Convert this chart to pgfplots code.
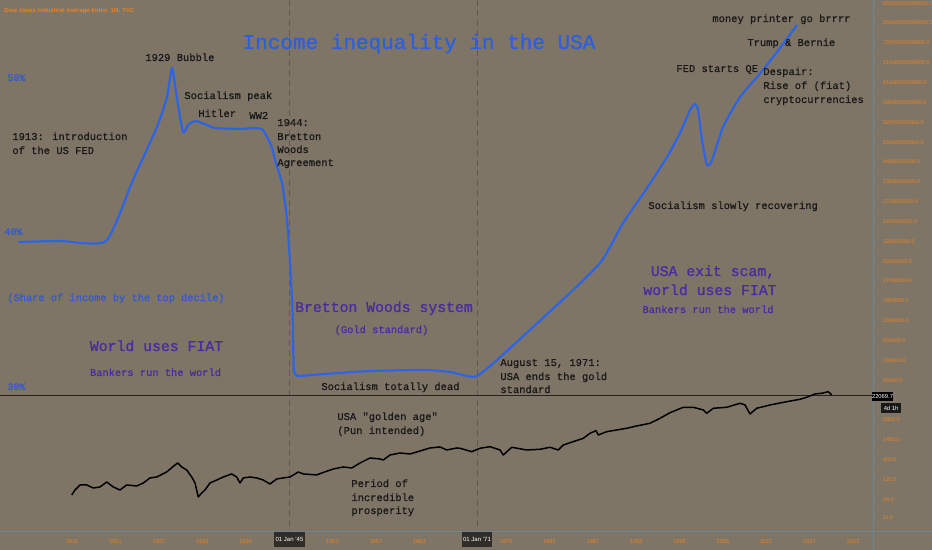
\documentclass[border=0pt]{standalone}
\usepackage{pgfplots}
\pgfplotsset{compat=1.18}
\usepackage{fontspec}
\setmainfont{Liberation Sans}
\newfontfamily\mono[FakeBold=0.8]{Liberation Mono}
\newfontfamily\monob[FakeBold=1.2]{Liberation Mono}
\definecolor{bg}{RGB}{127,117,103}
\definecolor{lineblue}{RGB}{45,100,230}
\definecolor{titleblue}{RGB}{45,95,225}
\definecolor{lblblue}{RGB}{50,90,205}
\definecolor{purp}{RGB}{72,44,160}
\definecolor{orng}{RGB}{235,130,30}
\definecolor{axblue}{RGB}{105,135,150}
\definecolor{guide}{RGB}{98,90,79}
\definecolor{boxgray}{RGB}{48,45,41}
\tikzset{
 ann/.style={font=\mono\fontsize{5.23}{6.75}\selectfont, text=black!90, anchor=base west, inner sep=0},
 pbig/.style={font=\monob\fontsize{7.4}{9}\selectfont, text=purp, anchor=base, inner sep=0},
 psmall/.style={font=\mono\fontsize{5.2}{6}\selectfont, text=purp, anchor=base, inner sep=0},
 pct/.style={font=\mono\fontsize{5}{6}\selectfont, text=lblblue, anchor=base west, inner sep=0},
}
\begin{document}
\begin{tikzpicture}
\fill[bg] (0,0) rectangle (466pt,275pt);
\begin{scope}[x=0.5pt,y=-0.5pt,yshift=275pt]
  \draw[guide, line width=0.35pt, densely dashed] (289.5,0) -- (289.5,532);
  \draw[guide, line width=0.35pt, densely dashed] (477,0) -- (477,532);
  \draw[black!70!bg, line width=0.4pt] (0,395.5) -- (873,395.5);
  \draw[axblue, line width=0.5pt] (0,532) -- (932,532);
  \draw[axblue, line width=0.5pt] (873,0) -- (873,550);
\end{scope}

% Dow Jones (log scale, right axis)
\begin{axis}[
  at={(0pt,9pt)}, anchor=south west, scale only axis,
  width=436.5pt, height=266pt,
  xmin=1905.03, xmax=2025.76,
  ymode=log, ymin=4.55, ymax=1.05e15,
  axis x line*=bottom, axis y line*=right,
  axis line style={draw=none},
  xtick={1915,1921,1927,1933,1939,1951,1957,1963,1975,1981,1987,1993,1999,2005,2011,2017,2023},
  xticklabels={1915,1921,1927,1933,1939,1951,1957,1963,1975,1981,1987,1993,1999,2005,2011,2017,2023},
  xticklabel style={font=\fontsize{2.8}{3}\selectfont, text=orng, anchor=center, yshift=-3.2pt},
  xtick style={draw=none},
  ytick={11,34,120,400,1400,5000,55000,190000,650000,2300000,7800000,27000000,92000000,320000000,1100000000,3700000000,13000000000,44000000000,150000000000,520000000000,1800000000000,6100000000000,21000000000000,72000000000000,250000000000000,850000000000000},
  yticklabels={11.0,34.0,120.0,400.0,1400.0,5000.0,55000.0,190000.0,650000.0,2300000.0,7800000.0,27000000.0,92000000.0,320000000.0,1100000000.0,3700000000.0,13000000000.0,44000000000.0,150000000000.0,520000000000.0,1800000000000.0,6100000000000.0,21000000000000.0,72000000000000.0,250000000000000.0,850000000000000.0},
  yticklabel style={font=\fontsize{2.7}{3}\selectfont, text=orng},
  ytick style={axblue, line width=0.3pt},
  major tick length=1.5pt, tick align=outside,
  yminorticks=false,
]
\addplot[black, line width=0.75pt, line join=round] coordinates {
(1914.95,45.4) (1915.40,62.0) (1916.09,84.6) (1917.02,84.6) (1917.93,70.2)
(1918.86,74.7) (1919.79,102) (1920.70,74.7) (1921.63,62.0) (1922.55,84.6)
(1923.94,79.5) (1924.85,95.8) (1925.77,131) (1926.70,139) (1928.08,190)
(1929.23,293) (1929.61,332) (1930.16,259) (1930.85,215) (1931.54,139)
(1932.00,95.8) (1932.45,40.1) (1932.92,51.4) (1933.38,62.0) (1934.07,95.8)
(1935.00,115) (1935.91,139) (1937.07,168) (1937.76,139) (1938.22,95.8)
(1938.68,131) (1939.60,139) (1940.53,131) (1941.44,115) (1942.37,90)
(1943.30,123) (1944.21,131) (1945.14,139) (1946.28,190) (1946.98,168)
(1948.83,158) (1949.52,178) (1951.12,229) (1952.51,259) (1953.67,243)
(1954.82,332) (1956.20,453) (1957.58,426) (1958.04,400) (1958.97,546)
(1960.35,618) (1961.73,581) (1962.66,658) (1964.50,844) (1965.88,898)
(1966.81,745) (1968.19,844) (1968.65,828) (1970.27,671) (1971.41,828)
(1972.79,915) (1974.18,745) (1974.63,546) (1975.80,881) (1977.87,745)
(1979.71,778) (1981.09,881) (1982.24,745) (1982.93,1017) (1984.32,1249)
(1985.70,1542) (1986.63,2105) (1987.46,2474) (1987.77,1894) (1988.93,2325)
(1990.32,2585) (1991.70,2872) (1993.08,3314) (1994.92,3920) (1996.31,5347)
(1997.69,7576) (1999.53,10598) (2000.91,10598) (2002.30,8963) (2002.76,7298)
(2003.68,9959) (2005.53,10598) (2007.37,13592) (2008.06,12228) (2008.75,6988)
(2009.68,9959) (2011.52,12228) (2013.83,15010) (2015.67,17424) (2016.59,19730)
(2017.74,24230) (2018.67,25310) (2019.58,27950) (2020.05,22770)
};
\end{axis}

% Income share of top decile
\begin{axis}[
  at={(0pt,9pt)}, anchor=south west, scale only axis,
  width=436.5pt, height=266pt,
  xmin=1905.03, xmax=2025.76, ymin=20.65, ymax=55.02,
  hide axis,
]
\addplot[lineblue, line width=1.1pt, smooth, tension=0.35, line join=round] coordinates {
(1907.52,39.39) (1913.33,39.45) (1919.69,39.45) (1923.42,43.39) (1926.74,46.82)
(1928.12,48.75) (1928.82,50.63) (1929.46,48.77) (1930.34,46.49) (1931.03,46.94)
(1932.00,47.20) (1933.38,47.00) (1934.76,46.75) (1938.22,46.69) (1940.30,46.75)
(1941.40,46.62) (1942.60,45.54) (1943.06,44.69) (1944.03,43.20) (1944.58,41.45)
(1944.86,39.97) (1945.14,38.03) (1945.50,34.80) (1945.60,32.10) (1945.69,30.99)
(1946.24,30.73) (1948.32,30.80) (1952.05,30.93) (1956.20,31.05) (1963.67,31.12)
(1967.26,30.99) (1969.61,30.73) (1971.00,30.73) (1973.76,31.76) (1984.28,36.28)
(1988.01,38.03) (1989.39,39.06) (1991.19,40.61) (1994.51,42.87) (1997.27,44.87)
(1999.07,46.43) (2000.45,47.91) (2001.15,48.30) (2001.56,47.91) (2002.11,45.98)
(2002.80,44.36) (2003.50,44.68) (2005.02,46.82) (2007.37,48.75) (2009.72,50.04)
(2012.49,51.66) (2015.25,53.40)
};
\end{axis}

\begin{scope}[x=0.5pt,y=-0.5pt,yshift=275pt]
  % header
  \node[font=\bfseries\fontsize{3}{3.5}\selectfont, text=orng, anchor=base west, inner sep=0] at (4,13) {Dow Jones Industrial Average Index, 1M, TVC};
  \node[font=\monob\fontsize{10.5}{12}\selectfont, text=titleblue, anchor=base, inner sep=0] at (419,49) {Income inequality in the USA};
  % percent labels
  \node[pct] at (7,81) {50\%};
  \node[pct] at (4,235) {40\%};
  \node[pct] at (7,390) {30\%};
  \node[font=\mono\fontsize{5.17}{6}\selectfont, text=lblblue, anchor=base west, inner sep=0] at (7,301) {(Share of income by the top decile)};
  % black annotations
  \node[ann] at (145,61) {1929 Bubble};
  \node[ann] at (184,99) {Socialism peak};
  \node[ann] at (198,117) {Hitler};
  \node[ann] at (249,119) {WW2};
  \node[ann] at (12,140) {1913: introduction};
  \node[ann] at (12,154) {of the US FED};
  \node[ann] at (277,126) {1944:};
  \node[ann] at (277,140) {Bretton};
  \node[ann] at (277,153) {Woods};
  \node[ann] at (277,166) {Agreement};
  \node[ann] at (321,390) {Socialism totally dead};
  \node[ann] at (500,366) {August 15, 1971:};
  \node[ann] at (500,380) {USA ends the gold};
  \node[ann] at (500,393) {standard};
  \node[ann] at (337,420) {USA "golden age"};
  \node[ann] at (337,434) {(Pun intended)};
  \node[ann] at (351,487) {Period of};
  \node[ann] at (351,501) {incredible};
  \node[ann] at (351,514) {prosperity};
  \node[ann] at (648,209) {Socialism slowly recovering};
  \node[ann] at (676,72) {FED starts QE};
  \node[ann] at (763,75) {Despair:};
  \node[ann] at (763,89) {Rise of (fiat)};
  \node[ann] at (763,103) {cryptocurrencies};
  \node[ann] at (747,46) {Trump \& Bernie};
  \node[ann] at (712,22) {money printer go brrrr};
  % purple annotations
  \node[pbig] at (156.5,351) {World uses FIAT};
  \node[psmall] at (155.5,376) {Bankers run the world};
  \node[pbig] at (384,312) {Bretton Woods system};
  \node[psmall] at (381.5,333) {(Gold standard)};
  \node[pbig] at (713,276) {USA exit scam,};
  \node[pbig] at (710,295) {world uses FIAT};
  \node[psmall] at (708,313) {Bankers run the world};
  % boxes
  \node[fill=boxgray, text=white, font=\fontsize{3}{3.5}\selectfont, inner sep=0, minimum width=15.5pt, minimum height=7.5pt] at (289.5,539.5) {01 Jan '45};
  \node[fill=boxgray, text=white, font=\fontsize{3}{3.5}\selectfont, inner sep=0, minimum width=15pt, minimum height=7.5pt] at (477,539.5) {01 Jan '71};
  \node[fill=black, text=white, font=\fontsize{2.9}{3.3}\selectfont, inner sep=0, minimum width=10.5pt, minimum height=4.6pt] at (882.5,396.5) {22069.7};
  \node[fill=black!90, text=white, font=\fontsize{2.9}{3.3}\selectfont, inner sep=0, minimum width=10pt, minimum height=5pt] at (891,408) {4d 1h};
\end{scope}
\pgfresetboundingbox
\path (0,0) rectangle (466pt,275pt);
\end{tikzpicture}
\end{document}
